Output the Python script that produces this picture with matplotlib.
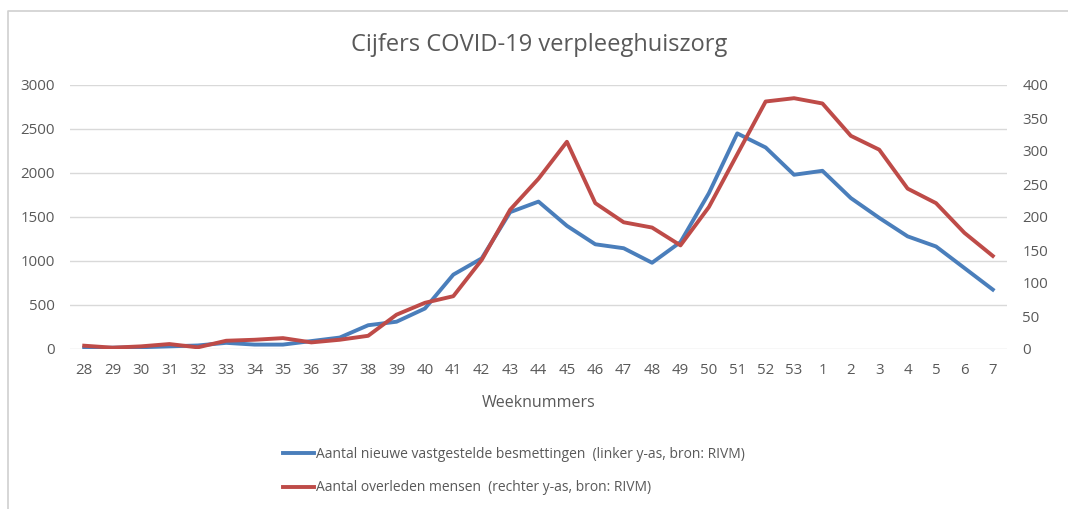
import numpy as np
import matplotlib.pyplot as plt
from matplotlib.lines import Line2D

weeks = [str(w) for w in range(28, 54)] + [str(w) for w in range(1, 8)]

besmettingen = [10, 15, 20, 30, 40, 70, 50, 50, 90, 130, 270, 310, 460, 845, 1030,
                1555, 1675, 1400, 1190, 1145, 980, 1215, 1770, 2450, 2290, 1980,
                2025, 1715, 1490, 1280, 1165, 920, 675]
overleden = [5, 2, 4, 7.5, 2.5, 12.5, 14, 16.5, 10, 14, 20, 52, 70, 80, 135,
             211, 258, 314, 221, 192, 184, 157, 215, 295, 375, 380,
             372, 323, 302, 243, 221, 176, 141]

label_blue = "Aantal nieuwe vastgestelde besmettingen  (linker y-as, bron: RIVM)"
label_red = "Aantal overleden mensen  (rechter y-as, bron: RIVM)"

grey = "#595959"
blue = "#4a7ebb"
red = "#be4b48"
plt.rcParams['font.family'] = ['Open Sans', 'DejaVu Sans']

fig = plt.figure(figsize=(10.68, 5.09), dpi=100)
ax = fig.add_axes([70 / 1068, 1 - 349 / 509, 937 / 1068, 264 / 509])
ax2 = ax.twinx()

x = np.arange(len(weeks))
ax.plot(x, besmettingen, color=blue, lw=2.8, solid_joinstyle='round', zorder=3)
ax2.plot(x, overleden, color=red, lw=2.8, solid_joinstyle='round', zorder=3)

ax.set_xlim(-0.5, len(weeks) - 0.5)
ax.set_ylim(0, 3000)
ax2.set_ylim(0, 400)
ax.set_yticks(range(0, 3001, 500))
ax2.set_yticks(range(0, 401, 50))
ax.set_xticks(x)
ax.set_xticklabels(weeks)
ax.yaxis.grid(True, color="#d9d9d9", lw=1)
ax.set_axisbelow(True)

for a in (ax, ax2):
    for s in a.spines.values():
        s.set_visible(False)
    a.tick_params(length=0, colors=grey, labelsize=10.8)
ax.tick_params(axis='y', pad=11)
ax2.tick_params(axis='y', pad=11)
ax.tick_params(axis='x', pad=10)
ax2.set_zorder(ax.get_zorder() + 1)
ax2.patch.set_visible(False)

ax.set_xlabel("Weeknummers", color=grey, fontsize=11.5, labelpad=12)
fig.text(0.505, 1 - 45 / 509, "Cijfers COVID-19 verpleeghuiszorg", ha='center', va='center',
         color=grey, fontsize=17)

handles = [Line2D([], [], color=blue, lw=2.8), Line2D([], [], color=red, lw=2.8)]
fig.legend(handles, [label_blue, label_red], loc='center left',
           bbox_to_anchor=(270 / 1068, 1 - 471 / 509), frameon=False, handlelength=2.3,
           handletextpad=0.1, labelspacing=1.35, fontsize=10, labelcolor=grey)

# chart-area border (left and top edges visible)
fig.add_artist(Line2D([8 / 1068, 8 / 1068, 1.01], [-0.01, 1 - 11 / 509, 1 - 11 / 509],
                      transform=fig.transFigure, color="#d0d0d0", lw=1.2))

fig.savefig("out.png", dpi=100)
